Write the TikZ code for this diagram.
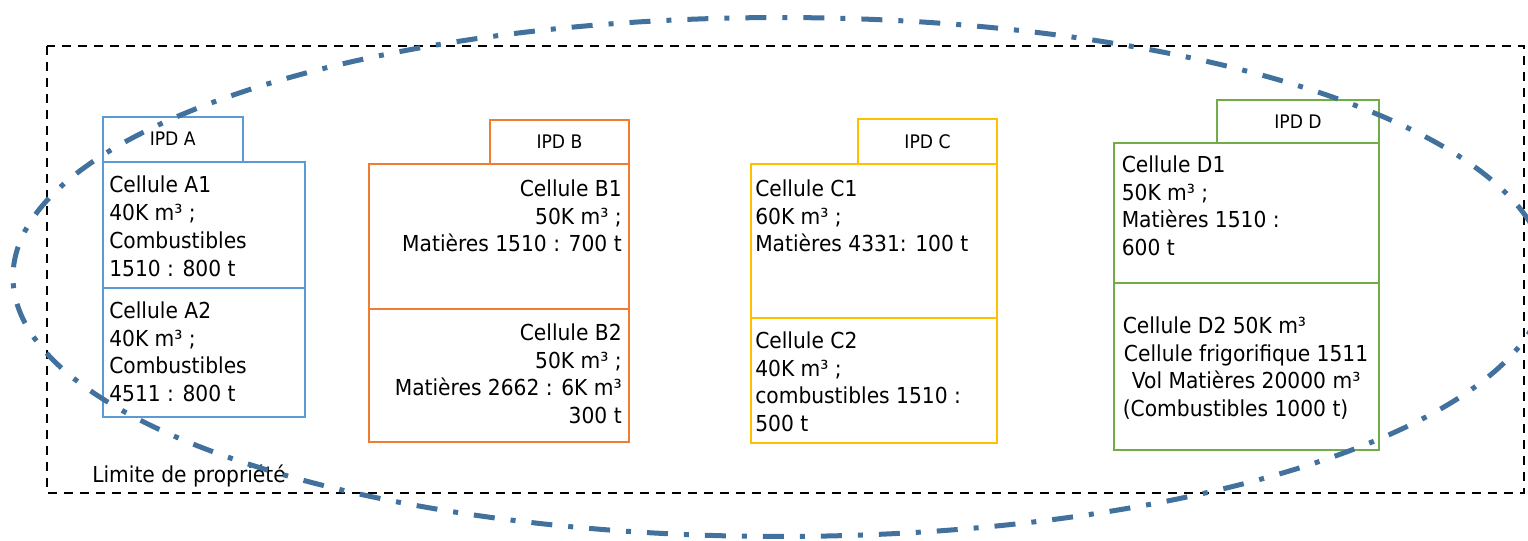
\documentclass[tikz,border=0pt]{standalone}
\usepackage{fontspec}
\setmainfont{DejaVu Sans}[FakeStretch=0.92]
\newcommand\cellfont{\fontsize{16.5pt}{20.8pt}\selectfont}
\newcommand\ipdfont{\fontsize{14pt}{16pt}\selectfont}
\definecolor{ellblue}{HTML}{41719C}
\definecolor{ipdA}{HTML}{5B9BD5}
\definecolor{ipdB}{HTML}{ED7D31}
\definecolor{ipdC}{HTML}{FFC000}
\definecolor{ipdD}{HTML}{70AD47}
\tikzset{
  box/.style={draw, line width=1.5pt, inner sep=0pt, anchor=north west},
  ipdtab/.style={box, font=\ipdfont, text=black},
  txtl/.style={inner sep=0pt, font=\cellfont, align=left, anchor=north west},
  txtr/.style={inner sep=0pt, font=\cellfont, align=right, anchor=north east},
  limite/.style={draw=black, line width=1.5pt, dash pattern=on 7pt off 5pt},
  zone/.style={draw=ellblue, line width=3.75pt, dash pattern=on 15.75pt off 12pt on 3.75pt off 12pt},
}
\newcommand\bx[6]{% name, style, x1, y1, x2, y2
  \node[#2, minimum width={(#5-#3)*0.75pt}, minimum height={(#6-#4)*0.75pt}] (#1) at (#3,#4) {};}
\begin{document}
\begin{tikzpicture}[x=0.75pt,y=-0.75pt]
\useasboundingbox (0,0) rectangle (1528,540);
% property limit
\draw[limite] (47,46) rectangle (1524,493);
\node[font=\cellfont, inner sep=0pt, anchor=base west] (lim) at (92,482) {Limite de propriété};

% IPD A
\node[ipdtab, draw=ipdA, minimum width={139.5*0.75pt}, minimum height={45*0.75pt}] (tabA) at (102,115.5) {IPD A};
\bx{A1}{box, draw=ipdA}{102}{160.5}{303.5}{287}
\bx{A2}{box, draw=ipdA}{102}{287}{303.5}{415.5}
\node[txtl] (tA1) at (109,176) {Cellule A1\\40K m³ ;\\Combustibles\\1510 : 800 t};
\node[txtl] (tA2) at (109,301.5) {Cellule A2\\40K m³ ;\\Combustibles\\4511 : 800 t};

% IPD B
\node[ipdtab, draw=ipdB, minimum width={139*0.75pt}, minimum height={44*0.75pt}] (tabB) at (489,118.5) {IPD B};
\bx{B1}{box, draw=ipdB}{367.5}{162.5}{628}{308}
\bx{B2}{box, draw=ipdB}{367.5}{308}{628}{441}
\node[txtr] (tB1) at (622,179.5) {Cellule B1\\50K m³ ;\\Matières 1510 : 700 t};
\node[txtr] (tB2) at (622,323.5) {Cellule B2\\50K m³ ;\\Matières 2662 : 6K m³\\300 t};

% IPD C
\node[ipdtab, draw=ipdC, minimum width={139*0.75pt}, minimum height={44.5*0.75pt}] (tabC) at (857,118) {IPD C};
\bx{C1}{box, draw=ipdC}{749.5}{162.5}{996}{317}
\bx{C2}{box, draw=ipdC}{749.5}{317}{996}{441.5}
\node[txtl] (tC1) at (755,179.5) {Cellule C1\\60K m³ ;\\Matières 4331: 100 t};
\node[txtl] (tC2) at (755,331.5) {Cellule C2\\40K m³ ;\\combustibles 1510 :\\500 t};

% IPD D
\node[ipdtab, draw=ipdD, minimum width={162*0.75pt}, minimum height={43.5*0.75pt}] (tabD) at (1216,98.5) {IPD D};
\bx{D1}{box, draw=ipdD}{1113}{142}{1378}{282}
\bx{D2}{box, draw=ipdD}{1113}{282}{1378}{449}
\node[txtl] (tD1) at (1121.5,155.5) {Cellule D1\\50K m³ ;\\Matières 1510 :\\600 t};
\node[txtl] (tD2) at (1122.5,316.5) {Cellule D2 50K m³\\\makebox[185pt][c]{Cellule frigorifique 1511}\\\makebox[185pt][c]{Vol Matières 20000 m³}\\(Combustibles 1000 t)};

% zone ellipse
\draw[zone] (780,277) ellipse [x radius=575.25pt, y radius=194.6pt];
\end{tikzpicture}
\end{document}
